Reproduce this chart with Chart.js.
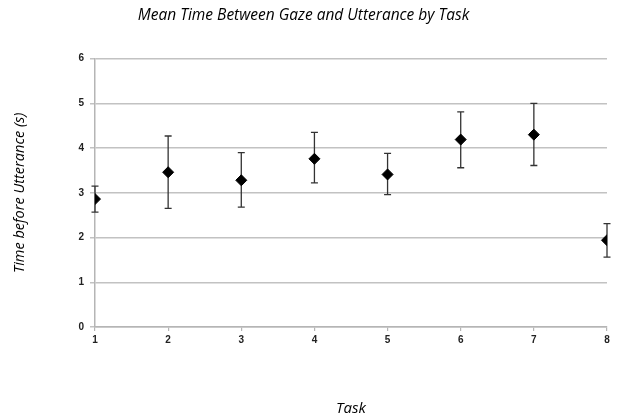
<!DOCTYPE html>
<html>
<head>
<meta charset="utf-8">
<script src="https://cdn.jsdelivr.net/npm/chart.js@4"></script>
<style>
  html, body { margin: 0; padding: 0; background: #fff; }
  #wrap { width: 618px; height: 419px; }
</style>
</head>
<body>
<div id="wrap"><canvas id="chart" width="618" height="419"></canvas></div>
<script>
// Datos
const tasks = [1, 2, 3, 4, 5, 6, 7, 8];
const meanTimes = [2.86, 3.46, 3.28, 3.76, 3.41, 4.19, 4.30, 1.94];
const upperErr = [3.15, 4.27, 3.90, 4.35, 3.88, 4.81, 5.00, 2.31];
const lowerErr = [2.57, 2.65, 2.68, 3.22, 2.96, 3.56, 3.61, 1.56];

// Plugin para dibujar las barras de error con las escalas del gráfico
const errorBars = {
  id: "errorBars",
  beforeDatasetsDraw(chart) {
    const ctx = chart.ctx;
    const xs = chart.scales.x;
    const ys = chart.scales.y;
    ctx.save();
    ctx.strokeStyle = "#333";
    ctx.lineWidth = 1.3;
    tasks.forEach((t, i) => {
      const x = xs.getPixelForValue(t);
      const yTop = ys.getPixelForValue(upperErr[i]);
      const yBot = ys.getPixelForValue(lowerErr[i]);
      ctx.beginPath();
      ctx.moveTo(x, yTop);
      ctx.lineTo(x, yBot);
      ctx.moveTo(x - 3.5, yTop);
      ctx.lineTo(x + 3.5, yTop);
      ctx.moveTo(x - 3.5, yBot);
      ctx.lineTo(x + 3.5, yBot);
      ctx.stroke();
    });
    ctx.restore();
  }
};

new Chart(document.getElementById("chart").getContext("2d"), {
  type: "scatter",
  data: {
    datasets: [{
      label: "Media",
      data: tasks.map((t, i) => ({ x: t, y: meanTimes[i] })),
      pointStyle: "rectRot",
      pointRadius: 5.5,
      pointHoverRadius: 5.5,
      backgroundColor: "#000",
      borderColor: "#000",
      borderWidth: 1
    }]
  },
  options: {
    responsive: false,
    animation: false,
    layout: { padding: { left: 0, right: 11, top: 0, bottom: 0 } },
    plugins: {
      legend: { display: false },
      tooltip: { enabled: false },
      title: {
        display: true,
        text: "Mean Time Between Gaze and Utterance by Task",
        color: "#000",
        font: { family: "Open Sans", size: 15.5, style: "italic", weight: "normal" },
        padding: { top: 6, bottom: 34 }
      }
    },
    scales: {
      x: {
        type: "linear",
        min: 1,
        max: 8,
        ticks: {
          stepSize: 1,
          color: "#222",
          padding: 3,
          font: { family: "Liberation Sans", size: 10, weight: "bold" }
        },
        grid: { drawOnChartArea: false, drawTicks: true, tickLength: 4, color: "#b5b5b5", lineWidth: 1.2 },
        border: { color: "#b5b5b5", width: 1.5 },
        title: {
          display: true,
          text: "Task",
          color: "#000",
          font: { family: "Open Sans", size: 15, style: "italic" },
          padding: { top: 0, bottom: 1 }
        },
        afterFit(scale) { scale.height = 92; }
      },
      y: {
        min: 0,
        max: 6,
        ticks: {
          stepSize: 1,
          color: "#222",
          padding: 6,
          font: { family: "Liberation Sans", size: 10, weight: "bold" }
        },
        grid: { color: "#c2c2c2", lineWidth: 1.5, tickLength: 5 },
        border: { color: "#b5b5b5", width: 1.5 },
        title: {
          display: true,
          text: "Time before Utterance (s)",
          color: "#000",
          font: { family: "Open Sans", size: 14.5, style: "italic" },
          padding: { top: 11, bottom: 0 }
        },
        afterFit(scale) { scale.width = 95; }
      }
    }
  },
  plugins: [errorBars]
});
</script>
</body>
</html>
